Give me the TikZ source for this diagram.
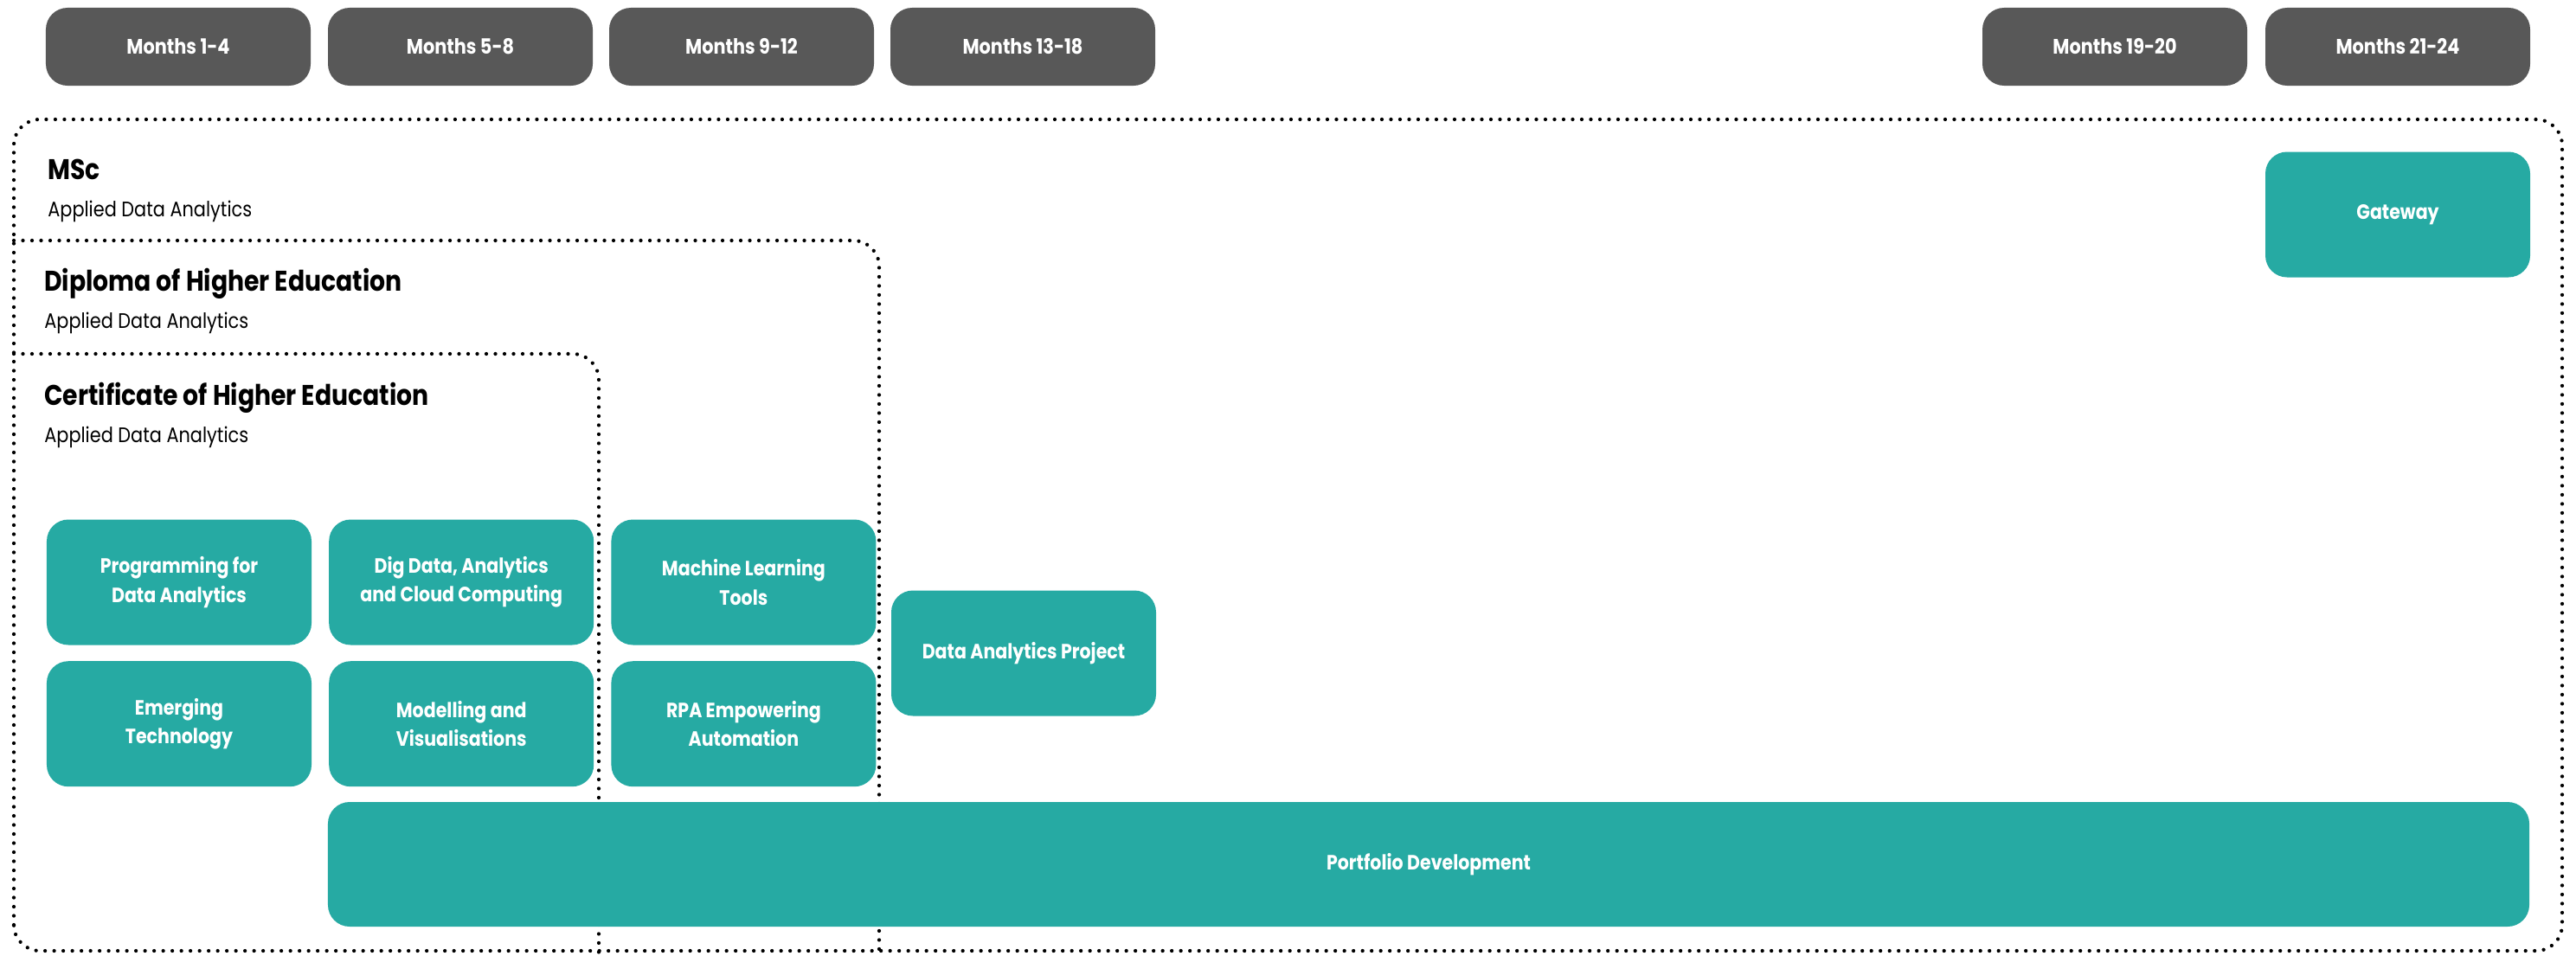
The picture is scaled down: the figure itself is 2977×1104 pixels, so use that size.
\documentclass[tikz,border=0pt]{standalone}
\usepackage{fontspec}
\setmainfont{Poppins}[FakeStretch=0.86]
\usetikzlibrary{positioning}
\definecolor{monthgrey}{RGB}{88,88,88}
\definecolor{moduleteal}{RGB}{38,170,163}

\begin{document}
\begin{tikzpicture}[
        x=0.2mm, y=-0.2mm,
        monthbox/.style={rectangle, rounded corners=5mm, fill=monthgrey, text=white, font=\bfseries\fontsize{13.8}{15}\selectfont, minimum width=61.2mm, minimum height=18mm, inner sep=0pt},
        modbox/.style={rectangle, rounded corners=5mm, fill=moduleteal, text=white, align=center, font=\bfseries\fontsize{13.6}{19}\selectfont, minimum width=61.2mm, minimum height=29mm, inner sep=0pt},
        dotbox/.style={draw, line width=0.85mm, line cap=round, dash pattern=on 0pt off 2.1mm, rounded corners=6mm},
        degtitle/.style={anchor=base west, font=\bfseries\fontsize{18.7}{20}\selectfont, inner sep=0pt},
        degsub/.style={anchor=base west, font=\fontsize{13.8}{15}\selectfont, inner sep=0pt}
    ]
    \useasboundingbox (0,0) rectangle (2977,1104);

    % timeline
    \foreach \lbl/\cx [count=\i] in {Months 1-4/206, Months 5-8/532, Months 9-12/857, Months 13-18/1182, Months 19-20/2444, Months 21-24/2771}
        \node[monthbox] (m\i) at (\cx,54) {\lbl};

    % awards
    \draw[dotbox] (16,1099) rectangle (2961,138);
    \draw[dotbox] (16,278) -- (1016,278) -- (1016,1110);
    \draw[dotbox] (16,409) -- (692,409) -- (692,1110);

    \node[degtitle] (msc) at (55,207) {MSc};
    \node[degsub] (mscsub) at (55,250) {Applied Data Analytics};
    \node[degtitle] (dip) at (51,336) {Diploma of Higher Education};
    \node[degsub] (dipsub) at (51,379) {Applied Data Analytics};
    \node[degtitle] (cert) at (51,468) {Certificate of Higher Education};
    \node[degsub] (certsub) at (51,511) {Applied Data Analytics};

    % modules
    \node[modbox] (prog) at (207,673) {Programming for\\Data Analytics};
    \node[modbox, right=3.9mm of prog] (bigdata) {Dig Data, Analytics\\and Cloud Computing};
    \node[modbox, right=3.9mm of bigdata] (mltools) {Machine Learning\\Tools};
    \node[modbox, below=3.6mm of prog] (emerg) {Emerging\\Technology};
    \node[modbox, below=3.6mm of bigdata] (model) {Modelling and\\Visualisations};
    \node[modbox, below=3.6mm of mltools] (rpa) {RPA Empowering\\Automation};
    \node[modbox] (dap) at (1183,755) {Data Analytics Project};
    \node[modbox] (gateway) at (2771,248) {Gateway};
    \node[modbox, minimum width=508.8mm, minimum height=28.8mm] (portfolio) at (1651,999) {Portfolio Development};
\end{tikzpicture}
\end{document}
